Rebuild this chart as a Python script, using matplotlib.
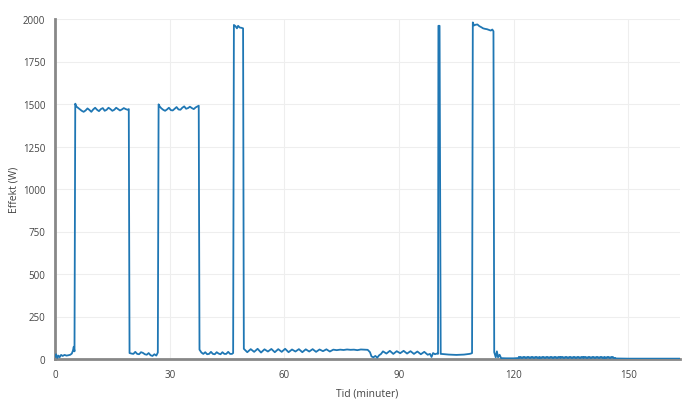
import numpy as np
import matplotlib.pyplot as plt

# effect readings, one list pair per phase (minutes, watts)
idle_a_t = [0, 0.3, 0.6, 0.9, 1.2, 1.6, 2.0, 2.5, 3.0, 3.5, 4.0, 4.4, 4.7, 4.9, 5.1]
idle_a_w = [12, 28, 6, 20, 10, 24, 18, 24, 20, 22, 25, 32, 50, 72, 45]

heat1_t = [5.3, 5.6, 6.0, 6.5, 7.0, 7.5, 8.0, 8.5, 9.0, 9.5, 10.0, 10.5, 11.0, 11.5, 12.0,
           12.5, 13.0, 13.5, 14.0, 14.5, 15.0, 15.5, 16.0, 16.5, 17.0, 17.5, 18.0, 18.5, 19.0, 19.3]
heat1_w = [1502, 1485, 1478, 1470, 1460, 1454, 1462, 1474, 1465, 1454, 1468, 1478, 1466, 1458, 1470,
           1476, 1460, 1466, 1478, 1470, 1460, 1466, 1478, 1470, 1462, 1468, 1476, 1470, 1466, 1470]

idle_b_t = [19.5, 20.0, 20.5, 21.0, 21.5, 22.0, 22.5, 23.0, 23.5, 24.0, 24.5, 25.0, 25.5, 26.0, 26.5, 26.9]
idle_b_w = [35, 32, 30, 42, 30, 28, 40, 36, 28, 25, 35, 22, 18, 28, 20, 38]

heat2_t = [27.1, 27.4, 27.8, 28.3, 28.8, 29.3, 29.8, 30.3, 30.8, 31.3, 31.8, 32.3, 32.8, 33.3, 33.8,
           34.3, 34.8, 35.3, 35.8, 36.3, 36.8, 37.3, 37.6]
heat2_w = [1498, 1485, 1475, 1466, 1460, 1468, 1478, 1464, 1462, 1472, 1482, 1468, 1466, 1478, 1486,
           1472, 1476, 1484, 1476, 1470, 1480, 1486, 1490]

idle_c_t = [37.8, 38.3, 38.8, 39.3, 39.8, 40.3, 40.8, 41.3, 41.8, 42.3, 42.8, 43.3, 43.8, 44.3, 44.8,
            45.3, 45.8, 46.3, 46.6]
idle_c_w = [55, 38, 30, 40, 28, 30, 42, 30, 28, 40, 32, 28, 40, 30, 30, 42, 30, 30, 35]

peak3_t = [46.8, 47.2, 47.6, 47.9, 48.3, 48.8, 49.2]
peak3_w = [1965, 1958, 1945, 1960, 1950, 1948, 1945]

idle_d_t = [49.4, 50.3, 51.2, 52.1, 53.0, 53.9, 54.8, 55.7, 56.6, 57.5, 58.4, 59.3, 60.2, 61.1, 62.0,
            62.9, 63.8, 64.7, 65.6, 66.5, 67.4, 68.3, 69.2, 70.1, 71.0, 71.9, 72.8, 73.7, 74.6, 75.5,
            76.4, 77.3, 78.2, 79.1, 80.0, 80.9, 81.8,
            82.4, 82.8, 83.3, 83.8, 84.3, 84.8, 85.3,
            85.8, 86.7, 87.6, 88.5, 89.4, 90.3, 91.2, 92.1, 93.0, 93.9, 94.8, 95.7, 96.6, 97.5,
            98.1, 98.5, 98.9, 99.4, 99.9, 100.2]
idle_d_w = [60, 40, 58, 42, 60, 38, 57, 44, 59, 40, 58, 42, 60, 40, 56,
            44, 58, 40, 57, 44, 58, 42, 56, 46, 57, 44, 55, 52, 55, 53,
            56, 54, 55, 52, 56, 55, 54,
            40, 15, 10, 18, 8, 22, 30,
            45, 32, 48, 30, 46, 34, 48, 32, 46, 30, 44, 28, 42, 25,
            30, 12, 35, 28, 32, 30]

spike_t = [100.3, 100.5, 100.6, 100.9]
spike_w = [1960, 1960, 1960, 30]

idle_e_t = [101.0, 102.0, 103.0, 104.0, 105.0, 106.0, 107.0, 107.8, 108.4, 108.8, 109.1]
idle_e_w = [30, 28, 26, 25, 24, 25, 26, 28, 30, 32, 35]

peak5_t = [109.3, 109.6, 110.0, 110.5, 111.0, 111.5, 112.0, 112.5, 113.0, 113.5, 114.0, 114.4, 114.7]
peak5_w = [1980, 1962, 1966, 1968, 1958, 1952, 1945, 1942, 1940, 1936, 1932, 1938, 1928]

tail_t = [114.9, 115.3, 115.6, 115.9, 116.3, 116.7, 118.0, 120.0, 121.0, 121.5]
tail_w = [40, 10, 45, 10, 25, 5, 4, 4, 5, 6]

# fast on/off standby flicker, drawn as steps
band_t = [121.5, 122.0, 122.5, 123.0, 123.5, 124.0, 124.5, 125.0, 125.5, 126.0, 126.5, 127.0, 127.5,
          128.0, 128.5, 129.0, 129.5, 130.0, 130.5, 131.0, 131.5, 132.0, 132.5, 133.0, 133.5, 134.0,
          134.5, 135.0, 135.5, 136.0, 136.5, 137.0, 137.5, 138.0, 138.5, 139.0, 139.5, 140.0, 140.5,
          141.0, 141.5, 142.0, 142.5, 143.0, 143.5, 144.0, 144.5, 145.0, 145.5, 146.0, 146.5]
band_w = [12, 5, 12, 5, 12, 5, 12, 5, 12, 5, 12, 5, 12,
          5, 12, 5, 12, 5, 12, 5, 12, 5, 12, 5, 12, 5,
          12, 5, 12, 5, 12, 5, 12, 5, 12, 5, 12, 5, 12,
          5, 12, 5, 12, 5, 12, 5, 12, 5, 12, 5, 4]

end_t = [146.5, 147.0, 150.0, 155.0, 160.0, 163.5]
end_w = [4, 3, 2, 2, 2, 2]

tid = np.concatenate([idle_a_t, heat1_t, idle_b_t, heat2_t, idle_c_t, peak3_t,
                      idle_d_t, spike_t, idle_e_t, peak5_t, tail_t])
effekt = np.concatenate([idle_a_w, heat1_w, idle_b_w, heat2_w, idle_c_w, peak3_w,
                         idle_d_w, spike_w, idle_e_w, peak5_w, tail_w])

plt.rcParams['font.family'] = ['Open Sans', 'DejaVu Sans']

fig = plt.figure(figsize=(7, 4.1), dpi=100)
ax = fig.add_axes([55 / 700, 1 - 360 / 410, 625 / 700, 340 / 410])

line_color = '#1f77b4'
ax.plot(tid, effekt, color=line_color, lw=1.3, zorder=3)
ax.plot(band_t, band_w, color=line_color, lw=1.3, zorder=3, drawstyle='steps-post')
ax.plot(end_t, end_w, color=line_color, lw=1.3, zorder=3)

ax.set_xlim(0, 163.5)
ax.set_ylim(0, 2000)
ax.set_xticks([0, 30, 60, 90, 120, 150])
ax.set_yticks(np.arange(0, 2001, 250))
ax.grid(True, color='#eeeeee', lw=0.8)
ax.set_axisbelow(True)
for s in ax.spines.values():
    s.set_visible(False)
ax.axhline(0, color='#888888', lw=2, zorder=2, clip_on=False)
ax.axvline(0, color='#888888', lw=2, zorder=2, clip_on=False)

ax.tick_params(length=0, labelsize=7, labelcolor='#444444', pad=7)
ax.set_xlabel('Tid (minuter)', fontsize=7.5, color='#444444')
ax.set_ylabel('Effekt (W)', fontsize=7.5, color='#444444')
ax.xaxis.set_label_coords(0.5, -0.085)
ax.yaxis.set_label_coords(-0.056, 0.5)

fig.savefig('out.png', dpi=100)
